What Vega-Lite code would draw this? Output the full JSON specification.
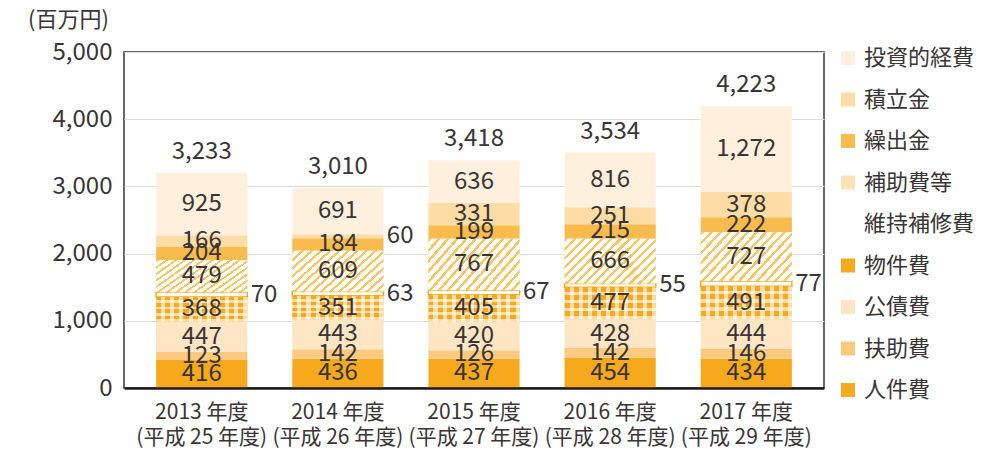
{
  "$schema": "https://vega.github.io/schema/vega-lite/v6.json",
  "width": 700,
  "height": 336,
  "autosize": {"type": "none"},
  "padding": {"left": 124, "top": 52, "right": 167, "bottom": 66},
  "background": "white",
  "config": {
    "font": "Noto Sans CJK JP",
    "view": {"stroke": "#3a3434", "strokeWidth": 1.5},
    "axis": {"labelColor": "#3a3434", "titleColor": "#3a3434"}
  },
  "datasets": {
    "segs": [
      {"year": "2013 年度", "cat": "人件費", "k": 1, "value": 416},
      {"year": "2013 年度", "cat": "扶助費", "k": 2, "value": 123},
      {"year": "2013 年度", "cat": "公債費", "k": 3, "value": 447},
      {"year": "2013 年度", "cat": "物件費", "k": 4, "value": 368},
      {"year": "2013 年度", "cat": "維持補修費", "k": 5, "value": 70},
      {"year": "2013 年度", "cat": "補助費等", "k": 6, "value": 479},
      {"year": "2013 年度", "cat": "繰出金", "k": 7, "value": 204},
      {"year": "2013 年度", "cat": "積立金", "k": 8, "value": 166},
      {"year": "2013 年度", "cat": "投資的経費", "k": 9, "value": 925},
      {"year": "2014 年度", "cat": "人件費", "k": 1, "value": 436},
      {"year": "2014 年度", "cat": "扶助費", "k": 2, "value": 142},
      {"year": "2014 年度", "cat": "公債費", "k": 3, "value": 443},
      {"year": "2014 年度", "cat": "物件費", "k": 4, "value": 351},
      {"year": "2014 年度", "cat": "維持補修費", "k": 5, "value": 63},
      {"year": "2014 年度", "cat": "補助費等", "k": 6, "value": 609},
      {"year": "2014 年度", "cat": "繰出金", "k": 7, "value": 184},
      {"year": "2014 年度", "cat": "積立金", "k": 8, "value": 60},
      {"year": "2014 年度", "cat": "投資的経費", "k": 9, "value": 691},
      {"year": "2015 年度", "cat": "人件費", "k": 1, "value": 437},
      {"year": "2015 年度", "cat": "扶助費", "k": 2, "value": 126},
      {"year": "2015 年度", "cat": "公債費", "k": 3, "value": 420},
      {"year": "2015 年度", "cat": "物件費", "k": 4, "value": 405},
      {"year": "2015 年度", "cat": "維持補修費", "k": 5, "value": 67},
      {"year": "2015 年度", "cat": "補助費等", "k": 6, "value": 767},
      {"year": "2015 年度", "cat": "繰出金", "k": 7, "value": 199},
      {"year": "2015 年度", "cat": "積立金", "k": 8, "value": 331},
      {"year": "2015 年度", "cat": "投資的経費", "k": 9, "value": 636},
      {"year": "2016 年度", "cat": "人件費", "k": 1, "value": 454},
      {"year": "2016 年度", "cat": "扶助費", "k": 2, "value": 142},
      {"year": "2016 年度", "cat": "公債費", "k": 3, "value": 428},
      {"year": "2016 年度", "cat": "物件費", "k": 4, "value": 477},
      {"year": "2016 年度", "cat": "維持補修費", "k": 5, "value": 55},
      {"year": "2016 年度", "cat": "補助費等", "k": 6, "value": 666},
      {"year": "2016 年度", "cat": "繰出金", "k": 7, "value": 215},
      {"year": "2016 年度", "cat": "積立金", "k": 8, "value": 251},
      {"year": "2016 年度", "cat": "投資的経費", "k": 9, "value": 816},
      {"year": "2017 年度", "cat": "人件費", "k": 1, "value": 434},
      {"year": "2017 年度", "cat": "扶助費", "k": 2, "value": 146},
      {"year": "2017 年度", "cat": "公債費", "k": 3, "value": 444},
      {"year": "2017 年度", "cat": "物件費", "k": 4, "value": 491},
      {"year": "2017 年度", "cat": "維持補修費", "k": 5, "value": 77},
      {"year": "2017 年度", "cat": "補助費等", "k": 6, "value": 727},
      {"year": "2017 年度", "cat": "繰出金", "k": 7, "value": 222},
      {"year": "2017 年度", "cat": "積立金", "k": 8, "value": 378},
      {"year": "2017 年度", "cat": "投資的経費", "k": 9, "value": 1272}
    ],
    "totals": [
      {"year": "2013 年度", "total": 3233},
      {"year": "2014 年度", "total": 3010},
      {"year": "2015 年度", "total": 3418},
      {"year": "2016 年度", "total": 3534},
      {"year": "2017 年度", "total": 4223}
    ]
  },
  "layer": [
    {
      "data": {"name": "segs"},
      "transform": [
        {"stack": "value", "groupby": ["year"], "sort": [{"field": "k", "order": "ascending"}], "as": ["y0", "y1"]},
        {"calculate": "(datum.y0 + datum.y1) / 2", "as": "mid"}
      ],
      "layer": [
        {
          "mark": {"type": "bar", "strokeWidth": 1.5},
          "encoding": {
            "x": {
              "field": "year", "type": "nominal", "title": null,
              "scale": {"paddingInner": 0.33, "paddingOuter": 0.236},
              "axis": {
                "labelAngle": 0, "ticks": false, "domain": true, "domainColor": "#231815", "domainWidth": 2.5,
                "labelFontSize": 21, "labelPadding": 13, "labelLineHeight": 25, "grid": false, "zindex": 1,
                "labelExpr": "[datum.value, '(平成 ' + (toNumber(substring(datum.value, 0, 4)) - 1988) + ' 年度)']"
              }
            },
            "y": {
              "field": "y1", "type": "quantitative", "title": "(百万円)",
              "scale": {"domain": [0, 5000], "nice": false},
              "axis": {
                "values": [0, 1000, 2000, 3000, 4000, 5000], "format": ",", "labelExpr": "format(datum.value, ',')", "ticks": false, "domain": false,
                "grid": true, "gridColor": "#dcdcdc", "gridWidth": 1,
                "labelFontSize": 24, "labelPadding": 12,
                "titleAngle": 0, "titleFontSize": 22, "titleFontWeight": "normal", "titleAlign": "center",
                "titleBaseline": "middle", "titleX": -56, "titleY": -33
              }
            },
            "y2": {"field": "y0"},
            "color": {
              "field": "cat", "type": "nominal",
              "scale": {
                "domain": ["投資的経費", "積立金", "繰出金", "補助費等", "維持補修費", "物件費", "公債費", "扶助費", "人件費"],
                "range": ["#FEF0DD", "#FDDCA6", "#F9BB4E", "#FCE2B4", "#FFFFFF", "#F6A91D", "#FEE5C4", "#FCCA7E", "#F6A91D"]
              },
              "legend": {
                "orient": "none", "legendX": 713, "legendY": -5, "title": null,
                "symbolType": "square", "symbolSize": 196, "labelFontSize": 22, "labelColor": "#3a3434",
                "rowPadding": 19.5, "labelOffset": 5, "padding": 0
              }
            },
            "stroke": {"condition": {"test": "datum.cat === '維持補修費' || datum.value === '維持補修費'", "value": "#F6A91D"}, "value": "transparent"}
          }
        },
        {
          "transform": [{"filter": "datum.cat === '補助費等'"}],
          "mark": {
            "type": "bar",
            "fill": {
              "gradient": "linear", "x1": 0, "y1": 0, "x2": 1.2, "y2": 0.6,
              "stops": [
                {"offset": 0, "color": "#F9C55F"}, {"offset": 0.0233, "color": "#F9C55F"}, {"offset": 0.0233, "color": "#FFFFFF"}, {"offset": 0.0667, "color": "#FFFFFF"},
                {"offset": 0.0667, "color": "#F9C55F"}, {"offset": 0.09, "color": "#F9C55F"}, {"offset": 0.09, "color": "#FFFFFF"}, {"offset": 0.1333, "color": "#FFFFFF"},
                {"offset": 0.1333, "color": "#F9C55F"}, {"offset": 0.1567, "color": "#F9C55F"}, {"offset": 0.1567, "color": "#FFFFFF"}, {"offset": 0.2, "color": "#FFFFFF"},
                {"offset": 0.2, "color": "#F9C55F"}, {"offset": 0.2233, "color": "#F9C55F"}, {"offset": 0.2233, "color": "#FFFFFF"}, {"offset": 0.2667, "color": "#FFFFFF"},
                {"offset": 0.2667, "color": "#F9C55F"}, {"offset": 0.29, "color": "#F9C55F"}, {"offset": 0.29, "color": "#FFFFFF"}, {"offset": 0.3333, "color": "#FFFFFF"},
                {"offset": 0.3333, "color": "#F9C55F"}, {"offset": 0.3567, "color": "#F9C55F"}, {"offset": 0.3567, "color": "#FFFFFF"}, {"offset": 0.4, "color": "#FFFFFF"},
                {"offset": 0.4, "color": "#F9C55F"}, {"offset": 0.4233, "color": "#F9C55F"}, {"offset": 0.4233, "color": "#FFFFFF"}, {"offset": 0.4667, "color": "#FFFFFF"},
                {"offset": 0.4667, "color": "#F9C55F"}, {"offset": 0.49, "color": "#F9C55F"}, {"offset": 0.49, "color": "#FFFFFF"}, {"offset": 0.5333, "color": "#FFFFFF"},
                {"offset": 0.5333, "color": "#F9C55F"}, {"offset": 0.5567, "color": "#F9C55F"}, {"offset": 0.5567, "color": "#FFFFFF"}, {"offset": 0.6, "color": "#FFFFFF"},
                {"offset": 0.6, "color": "#F9C55F"}, {"offset": 0.6233, "color": "#F9C55F"}, {"offset": 0.6233, "color": "#FFFFFF"}, {"offset": 0.6667, "color": "#FFFFFF"},
                {"offset": 0.6667, "color": "#F9C55F"}, {"offset": 0.69, "color": "#F9C55F"}, {"offset": 0.69, "color": "#FFFFFF"}, {"offset": 0.7333, "color": "#FFFFFF"},
                {"offset": 0.7333, "color": "#F9C55F"}, {"offset": 0.7567, "color": "#F9C55F"}, {"offset": 0.7567, "color": "#FFFFFF"}, {"offset": 0.8, "color": "#FFFFFF"},
                {"offset": 0.8, "color": "#F9C55F"}, {"offset": 0.8233, "color": "#F9C55F"}, {"offset": 0.8233, "color": "#FFFFFF"}, {"offset": 0.8667, "color": "#FFFFFF"},
                {"offset": 0.8667, "color": "#F9C55F"}, {"offset": 0.89, "color": "#F9C55F"}, {"offset": 0.89, "color": "#FFFFFF"}, {"offset": 0.9333, "color": "#FFFFFF"},
                {"offset": 0.9333, "color": "#F9C55F"}, {"offset": 0.9567, "color": "#F9C55F"}, {"offset": 0.9567, "color": "#FFFFFF"}, {"offset": 1, "color": "#FFFFFF"}
              ]
            }
          },
          "encoding": {
            "x": {"field": "year", "type": "nominal", "scale": {"paddingInner": 0.33, "paddingOuter": 0.236}},
            "y": {"field": "y1", "type": "quantitative", "title": "(百万円)", "axis": {"values": [0, 1000, 2000, 3000, 4000, 5000], "format": ",", "labelExpr": "format(datum.value, ',')"}},
            "y2": {"field": "y0"}
          }
        },
        {
          "transform": [{"filter": "datum.cat === '物件費'"}],
          "mark": {
            "type": "bar",
            "fill": {
              "gradient": "linear", "x1": 0, "y1": 0, "x2": 1, "y2": 0,
              "stops": [
                {"offset": 0, "color": "rgba(255,255,255,0)"}, {"offset": 0.055, "color": "rgba(255,255,255,0)"}, {"offset": 0.055, "color": "rgba(255,255,255,0.6)"}, {"offset": 0.1, "color": "rgba(255,255,255,0.6)"},
                {"offset": 0.1, "color": "rgba(255,255,255,0)"}, {"offset": 0.155, "color": "rgba(255,255,255,0)"}, {"offset": 0.155, "color": "rgba(255,255,255,0.6)"}, {"offset": 0.2, "color": "rgba(255,255,255,0.6)"},
                {"offset": 0.2, "color": "rgba(255,255,255,0)"}, {"offset": 0.255, "color": "rgba(255,255,255,0)"}, {"offset": 0.255, "color": "rgba(255,255,255,0.6)"}, {"offset": 0.3, "color": "rgba(255,255,255,0.6)"},
                {"offset": 0.3, "color": "rgba(255,255,255,0)"}, {"offset": 0.355, "color": "rgba(255,255,255,0)"}, {"offset": 0.355, "color": "rgba(255,255,255,0.6)"}, {"offset": 0.4, "color": "rgba(255,255,255,0.6)"},
                {"offset": 0.4, "color": "rgba(255,255,255,0)"}, {"offset": 0.455, "color": "rgba(255,255,255,0)"}, {"offset": 0.455, "color": "rgba(255,255,255,0.6)"}, {"offset": 0.5, "color": "rgba(255,255,255,0.6)"},
                {"offset": 0.5, "color": "rgba(255,255,255,0)"}, {"offset": 0.555, "color": "rgba(255,255,255,0)"}, {"offset": 0.555, "color": "rgba(255,255,255,0.6)"}, {"offset": 0.6, "color": "rgba(255,255,255,0.6)"},
                {"offset": 0.6, "color": "rgba(255,255,255,0)"}, {"offset": 0.655, "color": "rgba(255,255,255,0)"}, {"offset": 0.655, "color": "rgba(255,255,255,0.6)"}, {"offset": 0.7, "color": "rgba(255,255,255,0.6)"},
                {"offset": 0.7, "color": "rgba(255,255,255,0)"}, {"offset": 0.755, "color": "rgba(255,255,255,0)"}, {"offset": 0.755, "color": "rgba(255,255,255,0.6)"}, {"offset": 0.8, "color": "rgba(255,255,255,0.6)"},
                {"offset": 0.8, "color": "rgba(255,255,255,0)"}, {"offset": 0.855, "color": "rgba(255,255,255,0)"}, {"offset": 0.855, "color": "rgba(255,255,255,0.6)"}, {"offset": 0.9, "color": "rgba(255,255,255,0.6)"},
                {"offset": 0.9, "color": "rgba(255,255,255,0)"}, {"offset": 0.955, "color": "rgba(255,255,255,0)"}, {"offset": 0.955, "color": "rgba(255,255,255,0.6)"}, {"offset": 1, "color": "rgba(255,255,255,0.6)"}
              ]
            }
          },
          "encoding": {
            "x": {"field": "year", "type": "nominal", "scale": {"paddingInner": 0.33, "paddingOuter": 0.236}},
            "y": {"field": "y1", "type": "quantitative", "title": "(百万円)", "axis": {"values": [0, 1000, 2000, 3000, 4000, 5000], "format": ",", "labelExpr": "format(datum.value, ',')"}},
            "y2": {"field": "y0"}
          }
        },
        {
          "transform": [{"filter": "datum.cat === '物件費'"}],
          "mark": {
            "type": "bar",
            "fill": {
              "gradient": "linear", "x1": 0, "y1": 0, "x2": 0, "y2": 1,
              "stops": [
                {"offset": 0, "color": "rgba(255,255,255,0)"}, {"offset": 0.14, "color": "rgba(255,255,255,0)"}, {"offset": 0.14, "color": "rgba(255,255,255,0.6)"}, {"offset": 0.25, "color": "rgba(255,255,255,0.6)"},
                {"offset": 0.25, "color": "rgba(255,255,255,0)"}, {"offset": 0.39, "color": "rgba(255,255,255,0)"}, {"offset": 0.39, "color": "rgba(255,255,255,0.6)"}, {"offset": 0.5, "color": "rgba(255,255,255,0.6)"},
                {"offset": 0.5, "color": "rgba(255,255,255,0)"}, {"offset": 0.64, "color": "rgba(255,255,255,0)"}, {"offset": 0.64, "color": "rgba(255,255,255,0.6)"}, {"offset": 0.75, "color": "rgba(255,255,255,0.6)"},
                {"offset": 0.75, "color": "rgba(255,255,255,0)"}, {"offset": 0.89, "color": "rgba(255,255,255,0)"}, {"offset": 0.89, "color": "rgba(255,255,255,0.6)"}, {"offset": 1, "color": "rgba(255,255,255,0.6)"}
              ]
            }
          },
          "encoding": {
            "x": {"field": "year", "type": "nominal", "scale": {"paddingInner": 0.33, "paddingOuter": 0.236}},
            "y": {"field": "y1", "type": "quantitative", "title": "(百万円)", "axis": {"values": [0, 1000, 2000, 3000, 4000, 5000], "format": ",", "labelExpr": "format(datum.value, ',')"}},
            "y2": {"field": "y0"}
          }
        },
        {
          "transform": [{"filter": "datum.value >= 100"}],
          "mark": {"type": "text", "fontSize": 24, "color": "#3a3434", "baseline": "middle"},
          "encoding": {
            "x": {"field": "year", "type": "nominal", "scale": {"paddingInner": 0.33, "paddingOuter": 0.236}},
            "y": {"field": "mid", "type": "quantitative", "title": "(百万円)", "axis": {"values": [0, 1000, 2000, 3000, 4000, 5000], "format": ",", "labelExpr": "format(datum.value, ',')"}},
            "text": {"field": "value", "type": "quantitative", "format": ","}
          }
        },
        {
          "transform": [{"filter": "datum.value < 100"}],
          "mark": {"type": "text", "fontSize": 24, "color": "#3a3434", "baseline": "middle", "align": "left", "dx": 49},
          "encoding": {
            "x": {"field": "year", "type": "nominal", "scale": {"paddingInner": 0.33, "paddingOuter": 0.236}},
            "y": {"field": "mid", "type": "quantitative", "title": "(百万円)", "axis": {"values": [0, 1000, 2000, 3000, 4000, 5000], "format": ",", "labelExpr": "format(datum.value, ',')"}},
            "text": {"field": "value", "type": "quantitative", "format": ","}
          }
        }
      ]
    },
    {
      "data": {"name": "totals"},
      "mark": {"type": "text", "fontSize": 24, "color": "#3a3434", "baseline": "middle", "dy": -19},
      "encoding": {
        "x": {"field": "year", "type": "nominal", "scale": {"paddingInner": 0.33, "paddingOuter": 0.236}},
        "y": {"field": "total", "type": "quantitative", "title": "(百万円)", "axis": {"values": [0, 1000, 2000, 3000, 4000, 5000], "format": ",", "labelExpr": "format(datum.value, ',')"}},
        "text": {"field": "total", "type": "quantitative", "format": ","}
      }
    }
  ]
}
